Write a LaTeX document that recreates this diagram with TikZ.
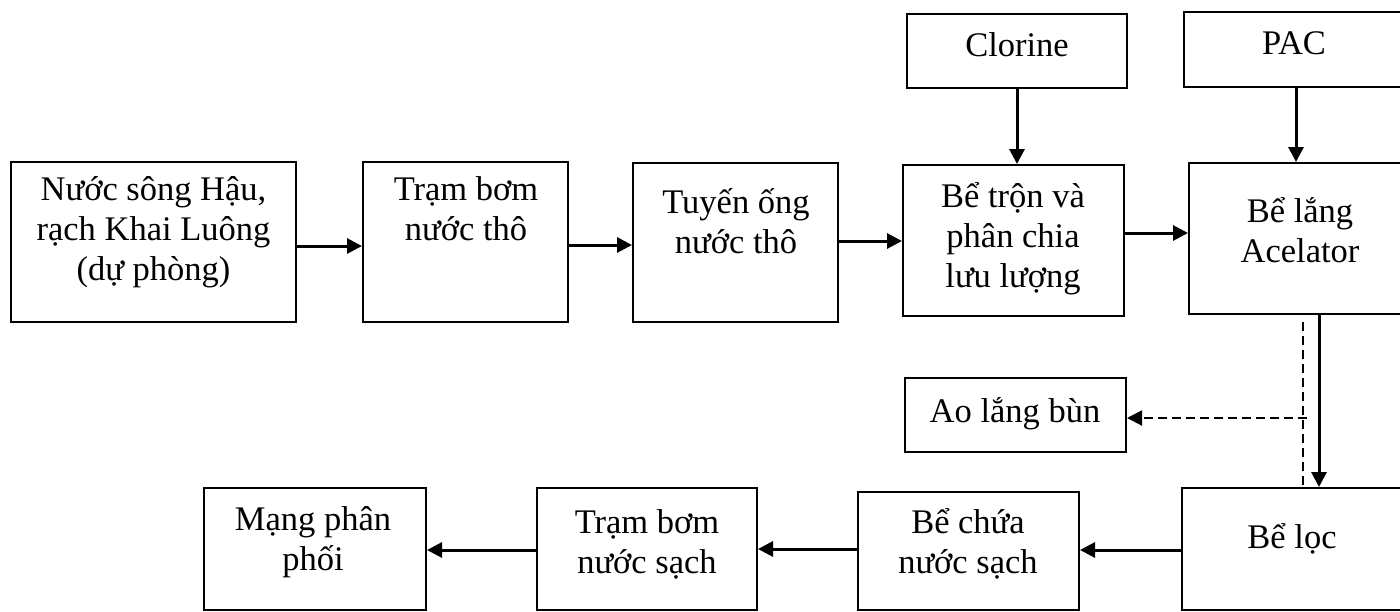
\documentclass[tikz,border=0pt]{standalone}
\usepackage{fontspec}
\setmainfont{Liberation Serif}
\usetikzlibrary{positioning,arrows.meta}

\begin{document}
\begin{tikzpicture}[x=1pt, y=-1pt,
  box/.style={draw, line width=2pt, inner sep=0pt},
  lbl/.style={align=center, inner sep=0pt, anchor=base, font=\fontsize{34.5}{40}\selectfont},
  arr/.style={line width=3pt, -{Triangle[length=15pt, width=15pt]}},
  dsh/.style={line width=2pt, dash pattern=on 9pt off 5pt}
]
\clip (0,0) rectangle (1400,611);
% Top row
\node[box, minimum width=285pt, minimum height=160pt] (src) at (153.5,242) {};
\node[box, minimum width=205pt, minimum height=160pt] (pumpraw) at (465.5,242) {};
\node[box, minimum width=205pt, minimum height=159pt] (pipe) at (735.5,242.5) {};
\node[box, minimum width=221pt, minimum height=151pt] (mix) at (1013.5,240.5) {};
\node[box, minimum width=221pt, minimum height=151pt] (settle) at (1299.5,238.5) {};
\node[box, minimum width=220pt, minimum height=74pt] (clo) at (1017,51) {};
\node[box, minimum width=224pt, minimum height=75pt] (pac) at (1296,49.5) {};
% Sludge and bottom row
\node[box, minimum width=221pt, minimum height=74pt] (sludge) at (1015.5,415) {};
\node[box, minimum width=226pt, minimum height=122pt] (filter) at (1295,549) {};
\node[box, minimum width=221pt, minimum height=118pt] (storage) at (968.5,551) {};
\node[box, minimum width=220pt, minimum height=122pt] (pumpclean) at (647,549) {};
\node[box, minimum width=222pt, minimum height=122pt] (net) at (315,549) {};
% Labels (base = last line)
\node[lbl] (src-l) at (153.5,280) {Nước sông Hậu,\\rạch Khai Luông\\(dự phòng)};
\node[lbl] (pumpraw-l) at (466,240) {Trạm bơm\\nước thô};
\node[lbl] (pipe-l) at (736,253) {Tuyến ống\\nước thô};
\node[lbl] (mix-l) at (1013,287) {Bể trộn và\\phân chia\\lưu lượng};
\node[lbl] (settle-l) at (1300,262) {Bể lắng\\Acelator};
\node[lbl] (clo-l) at (1017,56) {Clorine};
\node[lbl] (pac-l) at (1294,54) {PAC};
\node[lbl] (sludge-l) at (1015,422) {Ao lắng bùn};
\node[lbl] (filter-l) at (1292,548) {Bể lọc};
\node[lbl] (storage-l) at (968,573) {Bể chứa\\nước sạch};
\node[lbl] (pumpclean-l) at (647,573) {Trạm bơm\\nước sạch};
\node[lbl] (net-l) at (313,570) {Mạng phân\\phối};
% Flow
\draw[arr] (src.east |- 0,246) -- (pumpraw.west |- 0,246);
\draw[arr] (pumpraw.east |- 0,245) -- (pipe.west |- 0,245);
\draw[arr] (pipe.east |- 0,241) -- (mix.west |- 0,241);
\draw[arr] (mix.east |- 0,233) -- (settle.west |- 0,233);
\draw[arr] (clo.south) -- (clo.south |- mix.north);
\draw[arr] (pac.south) -- (pac.south |- settle.north);
\draw[arr] ([xshift=19.5pt]settle.south) -- ([xshift=19.5pt]settle.south |- filter.north);
\draw[arr] (filter.west |- 0,550) -- (storage.east |- 0,550);
\draw[arr] (storage.west |- 0,549) -- (pumpclean.east |- 0,549);
\draw[arr] (pumpclean.west |- 0,550) -- (net.east |- 0,550);
% Sludge line
\coordinate (split) at (1303,418);
\draw[dsh] (split |- 0,322) -- (split |- filter.north);
\draw[dsh, -{Triangle[length=15pt, width=15pt]}] ([xshift=4pt]split) -- (split -| sludge.east);
\end{tikzpicture}
\end{document}
